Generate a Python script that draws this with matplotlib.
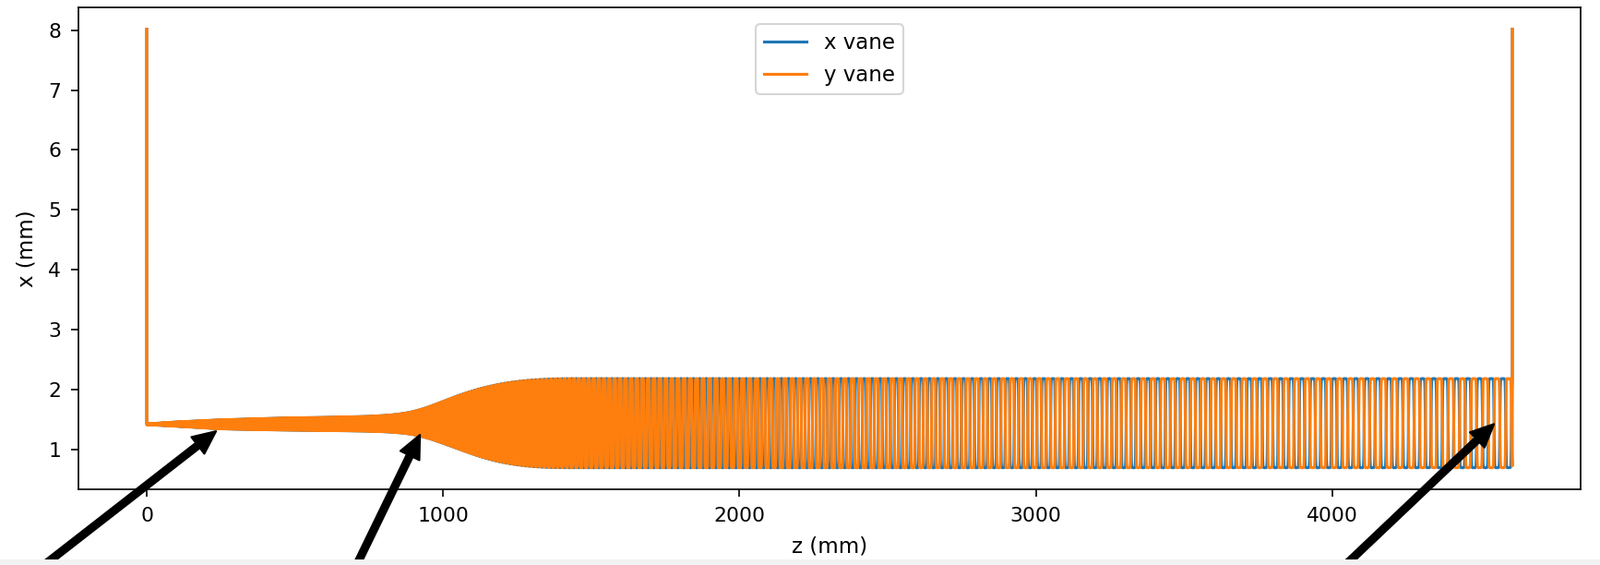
import numpy as np
import matplotlib
matplotlib.use("Agg")
import matplotlib.pyplot as plt
from matplotlib.patches import Rectangle

# ---- data ----
z_end = 4608.0            # mm, end of the vanes
spike_top = 8.02          # mm, vane end value at entrance / exit
# vane modulation envelope (z in mm, upper / lower vane tip position in mm)
env_z = [0, 80, 250, 460, 640, 760, 850, 922, 1000, 1080, 1160, 1240, 1320, 1400, 4608]
env_upper = [1.42, 1.45, 1.49, 1.52, 1.535, 1.55, 1.58, 1.65, 1.80, 1.95, 2.06, 2.13, 2.165, 2.18, 2.18]
env_lower = [1.41, 1.39, 1.34, 1.32, 1.31, 1.30, 1.28, 1.23, 1.10, 0.95, 0.82, 0.74, 0.70, 0.69, 0.69]
# modulation period (two cells, mm) along z
period_z = [0, 400, 800, 1100, 1300, 1600, 2000, 2400, 2800, 3200, 3600, 4000, 4300, 4608]
period_mm = [4.0, 4.5, 6.0, 10.0, 14.0, 18.5, 23.0, 26.5, 29.5, 32.0, 34.5, 36.5, 38.0, 39.5]
vane_sharpness = 4.5      # steepness of the vane tip profile inside a cell

series_labels = ["x vane", "y vane"]
x_ticks = [0, 1000, 2000, 3000, 4000]
y_ticks = [1, 2, 3, 4, 5, 6, 7, 8]
x_label = "z (mm)"
y_label = "x (mm)"

# arrow tips (data coords) and tails (figure pixels, below the picture)
arrow_tips = [(234, 1.30), (922, 1.24), (4546, 1.42)]
arrow_tails = [(-1, -38), (368, -38), (1418, -38)]

# ---- build vane profiles ----
z = np.linspace(0.0, z_end, 80001)
dz = z[1] - z[0]
per = np.interp(z, period_z, period_mm)
phase = 2 * np.pi * np.concatenate([[0.0], np.cumsum(np.diff(z) / per[1:])])


def smooth(v, width_mm=90.0):
    n = int(width_mm / dz) | 1
    pad = n // 2
    vp = np.concatenate([np.full(pad, v[0]), v, np.full(pad, v[-1])])
    return np.convolve(vp, np.ones(n) / n, mode="valid")


up = smooth(np.interp(z, env_z, env_upper))
lo = smooth(np.interp(z, env_z, env_lower))
mid = 0.5 * (up + lo)
amp = 0.5 * (up - lo)
shape = np.tanh(vane_sharpness * np.cos(phase)) / np.tanh(vane_sharpness)
xv = mid + amp * shape
yv = mid - amp * shape

zz = np.concatenate([[0.0], z, [z_end]])
xv = np.concatenate([[spike_top], xv, [spike_top]])
yv = np.concatenate([[spike_top], yv, [spike_top]])

# ---- figure ----
plt.rcParams.update({
    "xtick.labelsize": 10.5, "ytick.labelsize": 10.5,
    "xtick.major.size": 4.0, "ytick.major.size": 4.0,
    "xtick.major.pad": 5.0, "ytick.major.pad": 5.0,
    "axes.labelsize": 11, "legend.fontsize": 11,
    "axes.labelpad": 5.5,
})
fig = plt.figure(figsize=(1734 / 150, 612 / 150), dpi=150)
ax = fig.add_axes([85 / 1734, 1 - 530.4 / 612, (1713 - 85) / 1734, (530.4 - 7.8) / 612])
ax.plot(zz, xv, color="C0", lw=1.5, label=series_labels[0])
ax.plot(zz, yv, color="C1", lw=1.5, label=series_labels[1])
ax.set_xticks(x_ticks)
ax.set_yticks(y_ticks)
ax.set_xlabel(x_label)
ax.set_ylabel(y_label)
ax.legend(loc="upper center", borderaxespad=0.8)

fig.patches.append(Rectangle((0, 0), 1, 6 / 612, transform=fig.transFigure,
                             facecolor="#f2f2f2", edgecolor="none", zorder=0))

for tip, tail in zip(arrow_tips, arrow_tails):
    ax.annotate("", xy=tip, xycoords="data", xytext=tail, textcoords="figure pixels",
                arrowprops=dict(arrowstyle="simple,head_length=1.2,head_width=1.1,tail_width=0.34",
                                mutation_scale=10, color="black", shrinkA=0, shrinkB=0),
                annotation_clip=False, zorder=10)

fig.savefig("out.png", dpi=150)
